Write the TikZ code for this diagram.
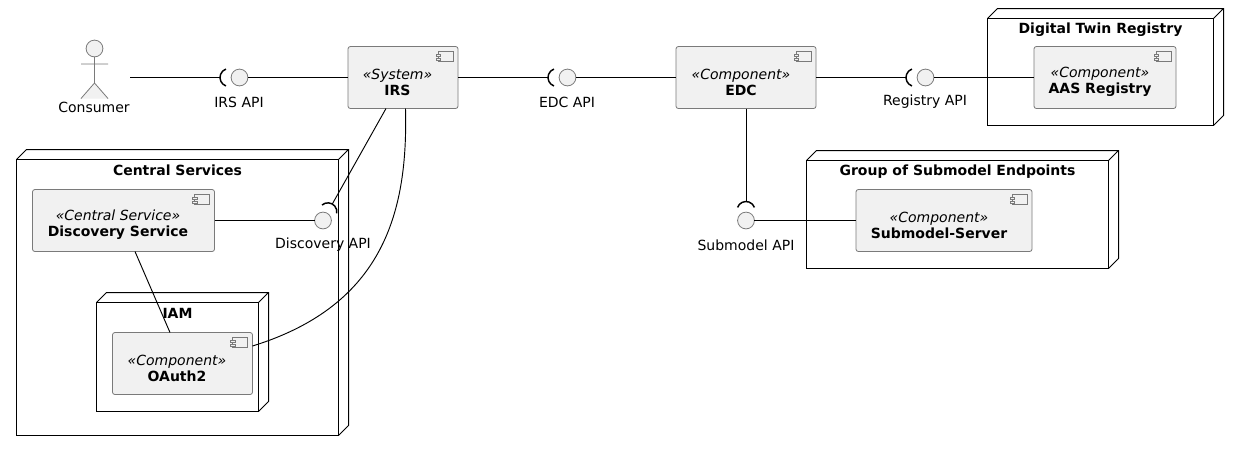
\documentclass[tikz,border=0pt]{standalone}
\usepackage{fontspec}
\usetikzlibrary{calc}
\setmainfont{DejaVu Sans}
\definecolor{compfill}{HTML}{F1F1F1}
\definecolor{compline}{HTML}{7A7A7A}
\tikzset{
  x=0.75pt,y=-0.75pt,
  every node/.style={font=\fontsize{10.5pt}{12pt}\selectfont,text=black,inner sep=0pt,outer sep=0pt},
  comp/.style={draw=compline,fill=compfill,line width=0.6pt,rounded corners=1.8pt},
  ctext/.style={align=center},
  iface/.style={circle,draw=compline,fill=compfill,line width=0.6pt,minimum size=12.6pt},
  nodebox/.style={draw=black,line width=0.75pt,fill=none},
  link/.style={draw=black,line width=0.7pt},
  sock/.style={draw=black,line width=1.1pt},
  iconpart/.style={draw=compline,line width=0.6pt,fill=compfill},
  actorpart/.style={draw=compline,line width=0.6pt,fill=compfill},
  ttl/.style={font=\fontsize{10.5pt}{12pt}\selectfont\bfseries},
  lbl/.style={font=\fontsize{10.5pt}{12pt}\selectfont}
}
\newcommand{\cstext}[2]{{\itshape «#1»}\\{\bfseries #2}}
% box: name, cx, cy, w, h, stereotype, title, text centre x
\newcommand{\compbox}[8]{%
  \node[comp,minimum width=#4*0.75pt,minimum height=#5*0.75pt] (#1) at (#2,#3) {};
  \node[ctext] (#1text) at (#8,#3+4.5) {\cstext{#6}{#7}};
  \begin{scope}[shift={(#1.north east)}]
    \path[iconpart] (-20,5) rectangle (-5,15);
    \path[iconpart] (-22,8) rectangle (-17.5,10.3);
    \path[iconpart] (-22,11.7) rectangle (-17.5,14);
  \end{scope}}
% 3D node: name, x1, y1 (front top), x2, y2, title
\newcommand{\nodethree}[6]{%
  \node[nodebox,minimum width=(#4-#2)*0.75pt,minimum height=(#5-#3)*0.75pt] (#1) at ({(#2+#4)/2},{(#3+#5)/2}) {};
  \path[nodebox] (#1.north west) -- ++(10,-10) -- ++({#4-#2},0) -- ++(0,{#5-#3}) -- (#1.south east)
     (#1.north east) -- ++(10,-10);
  \node[ttl] (#1title) at ({(#2+#4)/2},{#3+11}) {#6};}
% socket: apex coordinate name, direction angle from apex towards the interface centre
\newcommand{\socket}[2]{%
  \draw[sock] ($(#1)+(#2:6.75pt)+(#2+250:6.75pt)$) arc[start angle=#2+250,delta angle=-140,radius=6.75pt];}
\begin{document}
\begin{tikzpicture}
\useasboundingbox (0,0) rectangle (1240,451);
\fill[white] (0,0) rectangle (1240,451);

\nodethree{central}{16.5}{159.5}{338.5}{435.5}{Central Services}
\nodethree{iam}{96.5}{302.5}{258.5}{411.5}{IAM}
\nodethree{dtr}{987.5}{18.5}{1213.5}{125.5}{Digital Twin Registry}
\nodethree{group}{806.5}{160.5}{1108.5}{268.5}{Group of Submodel Endpoints}

\compbox{irs}{403}{77.5}{110}{62}{System}{IRS}{397.5}
\compbox{edc}{746}{77.5}{140}{62}{Component}{EDC}{741}
\compbox{aas}{1105}{77.5}{142}{62}{Component}{AAS Registry}{1100}
\compbox{disc}{123.5}{220.5}{182}{62}{Central Service}{Discovery Service}{118}
\compbox{oauth}{182.5}{363.5}{140}{62}{Component}{OAuth2}{177}
\compbox{server}{944}{220.5}{176}{62}{Component}{Submodel-Server}{939}

% actor
\node[circle,actorpart,minimum size=12.6pt] (head) at (94.5,48.5) {};
\coordinate (hip) at (94.5,83);
\path[actorpart] (head.south) -- (hip) (81,64) -- (108,64) (81,98.5) -- (hip) -- (108,98.5);
\node[lbl] (consumer) at (94,107) {Consumer};
\coordinate (consumerport) at (130,77.5);

% interfaces
\node[iface] (irsapi) at (239.5,77.5) {};
\node[iface] (edcapi) at (567.5,77.5) {};
\node[iface] (regapi) at (925.5,77.5) {};
\node[iface] (discapi) at (323,220.5) {};
\node[iface] (subapi) at (746,220.5) {};
\node[lbl] (irsapil) at (239,102) {IRS API};
\node[lbl] (edcapil) at (567,102) {EDC API};
\node[lbl] (regapil) at (925,102) {Registry API};
\node[lbl] (discapil) at (323,245) {Discovery API};
\node[lbl] (subapil) at (746,245) {Submodel API};

% socket apex points
\coordinate (irssock) at (220,77.5);
\coordinate (edcsock) at (548,77.5);
\coordinate (regsock) at (906,77.5);
\coordinate (discsock) at (332.3,204);
\coordinate (subsock) at (746,201.5);
\coordinate (irsdisc) at (386,108.5);
\coordinate (irsoauth) at (405.5,108.5);
\coordinate (edcsub) at (746,108.5);
\coordinate (discoauthA) at (135,251.5);
\coordinate (discoauthB) at (170,332.5);
\coordinate (oauthport) at (252.5,346);

% sockets
\socket{irssock}{0}
\socket{edcsock}{0}
\socket{regsock}{0}
\socket{discsock}{240.6}
\socket{subsock}{270}

% connectors
\draw[link] (consumerport) -- (irssock);
\draw[link] (irsapi.east) -- (irsapi.east -| irs.west);
\draw[link] (irs.east) -- (edcsock);
\draw[link] (edcapi.east) -- (edc.west);
\draw[link] (edc.east) -- (regsock);
\draw[link] (regapi.east) -- (aas.west);
\draw[link] (irsdisc) -- (discsock);
\draw[link] (disc.east) -- (discapi.west);
\draw[link] (edcsub) -- (subsock);
\draw[link] (subapi.east) -- (server.west);
\draw[link] (discoauthA) -- (discoauthB);
\draw[link] (irsoauth) .. controls (408,210) and (385,305) .. (oauthport);
\end{tikzpicture}
\end{document}
